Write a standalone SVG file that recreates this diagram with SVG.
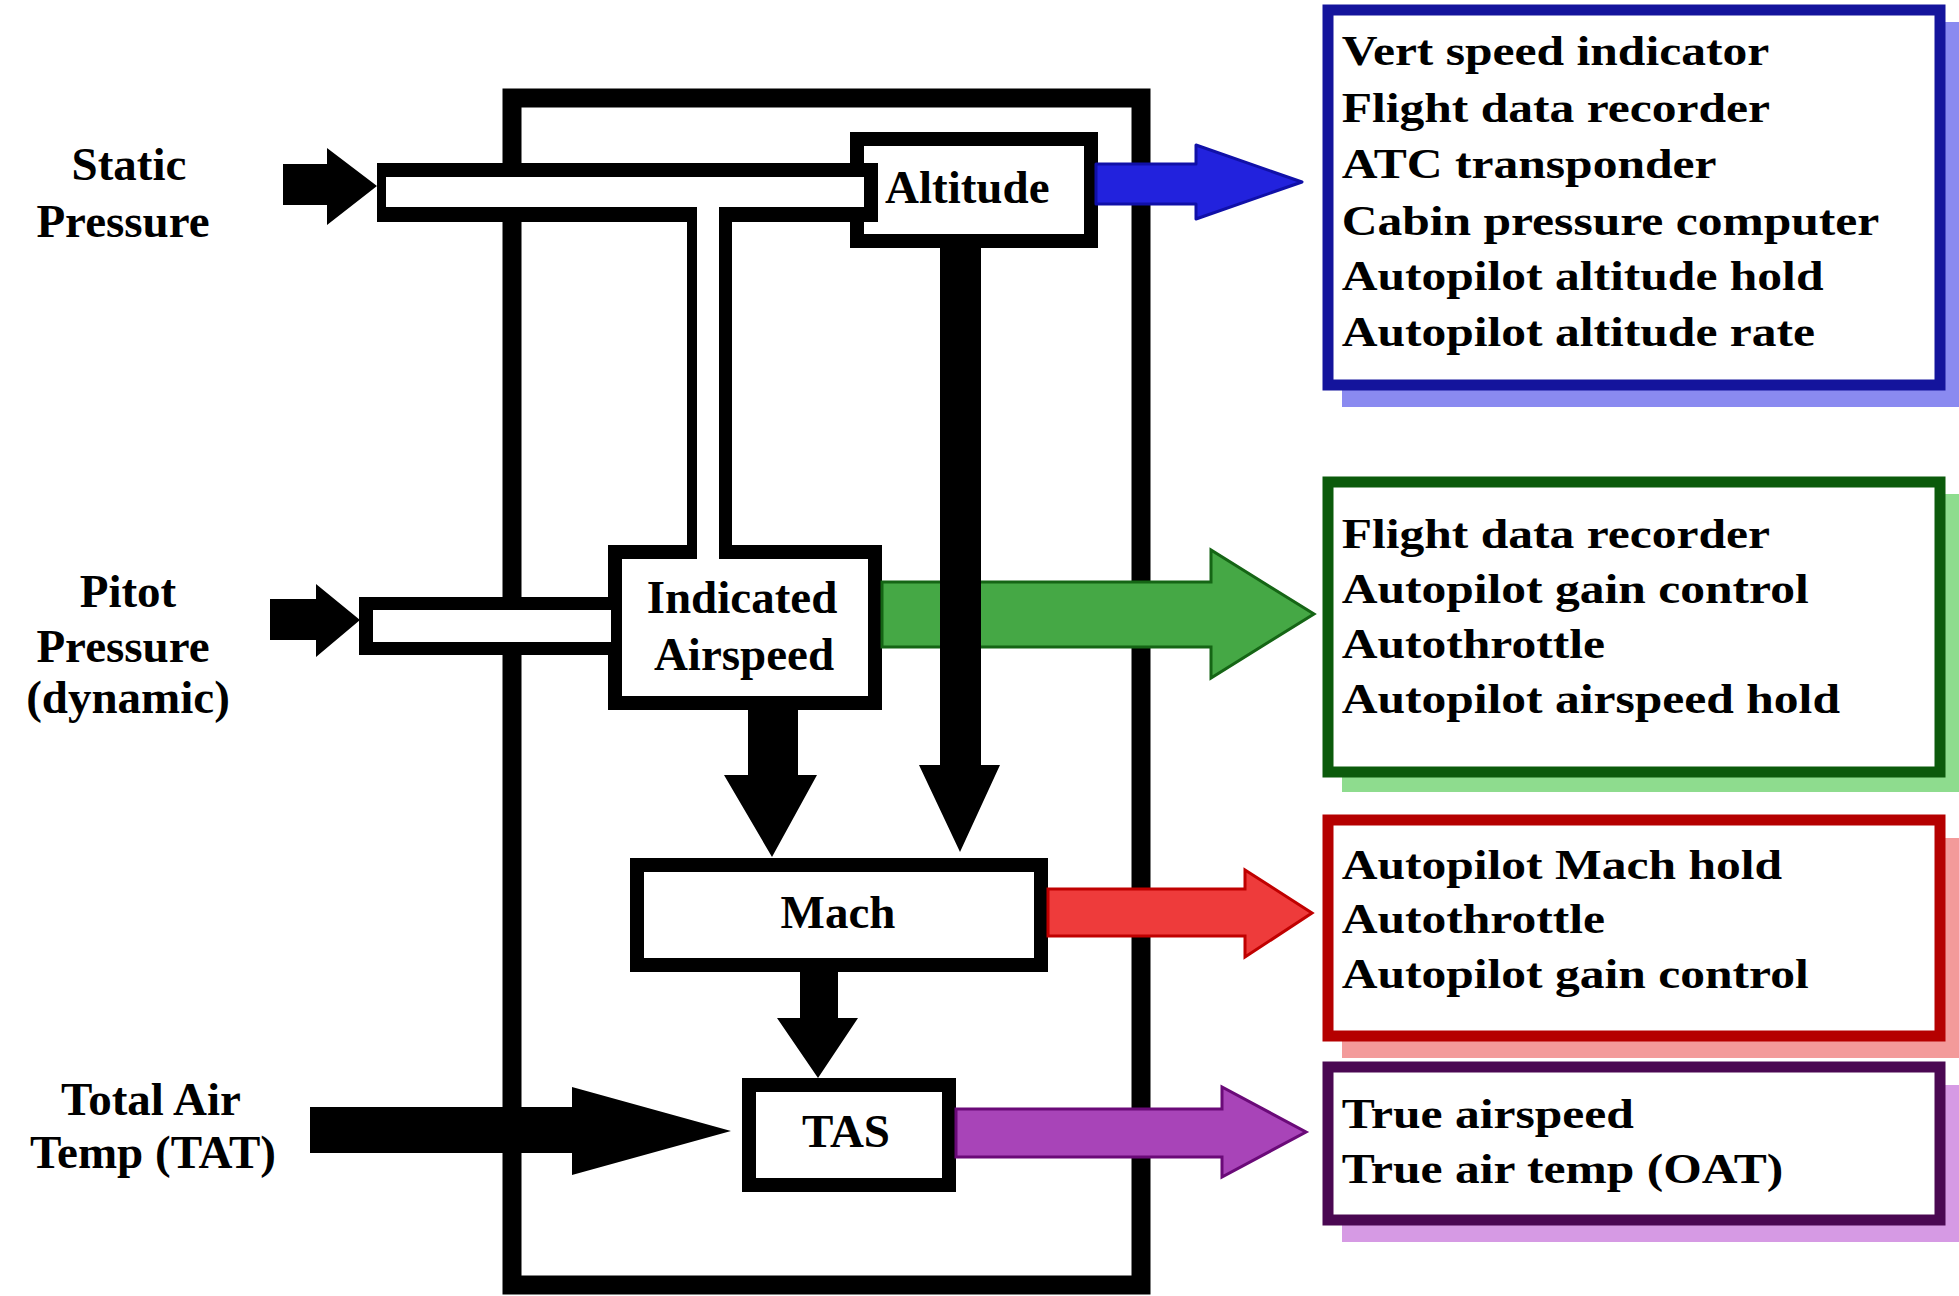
<svg xmlns="http://www.w3.org/2000/svg" width="1959" height="1296" viewBox="0 0 1959 1296">
<style>
.lbl{font-family:"Liberation Serif","Times New Roman",serif;font-weight:bold;font-size:47px;fill:#000}
.lst{font-family:"Liberation Serif","Times New Roman",serif;font-weight:bold;font-size:42px;fill:#000}
.blk{fill:#000}
.wht{fill:#fff}
.box{fill:#fff;stroke:#000;stroke-width:14}
</style>
<rect x="0" y="0" width="1959" height="1296" fill="#fff"/>
<!-- outer computer box -->
<g id="adc">
<rect x="512" y="98" width="629" height="1187" fill="none" stroke="#000" stroke-width="19"/>
</g>
<!-- Altitude box -->
<g id="altitude">
<rect x="857" y="139" width="234" height="102" class="box"/>
</g>
<!-- static tube -->
<g id="static-tube">
<rect x="377" y="163" width="501" height="59" class="blk"/>
<rect x="386" y="177" width="478" height="30" class="wht"/>
<rect x="697" y="205" width="22" height="20" class="wht"/>
<rect x="687" y="212" width="10" height="345" class="blk"/>
<rect x="719" y="212" width="13" height="345" class="blk"/>
</g>
<!-- IAS box -->
<g id="ias">
<rect x="615" y="552" width="260" height="151" class="box"/>
<rect x="697" y="542" width="22" height="20" class="wht"/>
</g>
<!-- pitot tube -->
<g id="pitot-tube">
<rect x="359" y="597" width="252" height="58" class="blk"/>
<rect x="373" y="610" width="238" height="32" class="wht"/>
</g>
<g id="mach">
<rect x="637" y="865" width="404" height="100" class="box"/>
</g>
<g id="tas">
<rect x="749" y="1085" width="200" height="100" class="box"/>
</g>
<!-- connectors -->
<g id="connectors">
<polygon points="1096,164 1196,164 1196,145 1302,182 1196,219 1196,204 1096,204" fill="#2222dd" stroke="#1010a8" stroke-width="3" stroke-linejoin="round"/>
<polygon points="882,582 1211,582 1211,550 1314,614 1211,678 1211,647 882,647" fill="#45a845" stroke="#156515" stroke-width="3"/>
<polygon points="1048,889 1245,889 1245,870 1312,913 1245,957 1245,936 1048,936" fill="#ee3b3b" stroke="#c00000" stroke-width="3"/>
<polygon points="956,1109 1222,1109 1222,1087 1306,1132 1222,1177 1222,1157 956,1157" fill="#a844b8" stroke="#6a0a78" stroke-width="3"/>
<polygon class="blk" points="283,164 327,164 327,148 377,186 327,225 327,205 283,205"/>
<polygon class="blk" points="270,599 316,599 316,584 360,620 316,657 316,640 270,640"/>
<polygon class="blk" points="310,1107 572,1107 572,1087 731,1131 572,1175 572,1153 310,1153"/>
<polygon class="blk" points="940,246 981,246 981,765 1000,765 960,852 919,765 940,765"/>
<polygon class="blk" points="748,708 798,708 798,775 817,775 772,857 724,775 748,775"/>
<polygon class="blk" points="800,970 838,970 838,1018 858,1018 818,1078 777,1018 800,1018"/>
</g>
<!-- output lists -->
<g id="list-altitude">
<rect x="1342" y="22" width="617" height="385" fill="#8a8af0"/>
<rect x="1328" y="10" width="612" height="375" fill="#fff" stroke="#14149c" stroke-width="11"/>
</g>
<g id="list-ias">
<rect x="1342" y="494" width="617" height="298" fill="#8edc8e"/>
<rect x="1328" y="482" width="612" height="290" fill="#fff" stroke="#0b5a0b" stroke-width="11"/>
</g>
<g id="list-mach">
<rect x="1342" y="838" width="617" height="220" fill="#f39a9a"/>
<rect x="1328" y="820" width="612" height="216" fill="#fff" stroke="#b50000" stroke-width="11"/>
</g>
<g id="list-tas">
<rect x="1342" y="1085" width="617" height="157" fill="#d69ae4"/>
<rect x="1328" y="1067" width="612" height="153" fill="#fff" stroke="#4a0852" stroke-width="11"/>
</g>
<!-- labels -->
<g id="labels">
<text class="lbl" x="129" y="180" text-anchor="middle">Static</text>
<text class="lbl" x="123" y="237" text-anchor="middle">Pressure</text>
<text class="lbl" x="128" y="607" text-anchor="middle">Pitot</text>
<text class="lbl" x="123" y="662" text-anchor="middle">Pressure</text>
<text class="lbl" x="128" y="713" text-anchor="middle">(dynamic)</text>
<text class="lbl" x="151" y="1115" text-anchor="middle">Total Air</text>
<text class="lbl" x="153" y="1168" text-anchor="middle">Temp (TAT)</text>
<text class="lbl" x="885" y="203">Altitude</text>
<text class="lbl" x="742" y="613" text-anchor="middle">Indicated</text>
<text class="lbl" x="744" y="670" text-anchor="middle">Airspeed</text>
<text class="lbl" x="838" y="928" text-anchor="middle">Mach</text>
<text class="lbl" x="846" y="1147" text-anchor="middle">TAS</text>
</g>
<g id="list-texts" transform="scale(1.18,1)">
<text class="lst" x="1137" y="65">Vert speed indicator</text>
<text class="lst" x="1137" y="122">Flight data recorder</text>
<text class="lst" x="1137" y="178">ATC transponder</text>
<text class="lst" x="1137" y="235">Cabin pressure computer</text>
<text class="lst" x="1137" y="290">Autopilot altitude hold</text>
<text class="lst" x="1137" y="346">Autopilot altitude rate</text>
<text class="lst" x="1137" y="548">Flight data recorder</text>
<text class="lst" x="1137" y="603">Autopilot gain control</text>
<text class="lst" x="1137" y="658">Autothrottle</text>
<text class="lst" x="1137" y="713">Autopilot airspeed hold</text>
<text class="lst" x="1137" y="879">Autopilot Mach hold</text>
<text class="lst" x="1137" y="933">Autothrottle</text>
<text class="lst" x="1137" y="988">Autopilot gain control</text>
<text class="lst" x="1137" y="1128">True airspeed</text>
<text class="lst" x="1137" y="1183">True air temp (OAT)</text>
</g>
</svg>
